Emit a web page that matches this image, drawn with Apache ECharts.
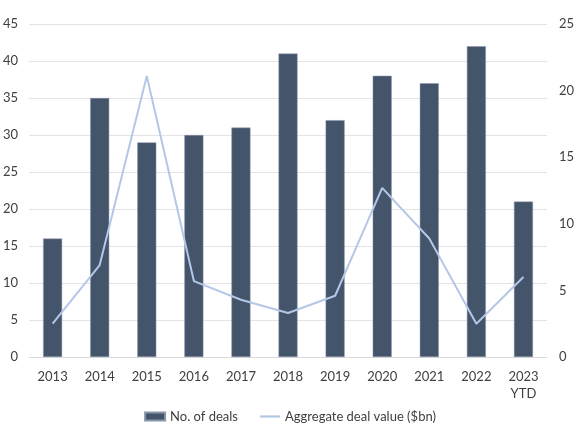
<!DOCTYPE html>
<html>
<head>
<meta charset="utf-8">
<script src="https://cdn.jsdelivr.net/npm/echarts@6/dist/echarts.min.js"></script>
<style>
html, body { margin: 0; padding: 0; background: #fff; }
#chart-panel { width: 580px; height: 435px; }
</style>
</head>
<body>
<div id="chart-panel"></div>
<script>
var years = ['2013', '2014', '2015', '2016', '2017', '2018', '2019', '2020', '2021', '2022', '2023\nYTD'];
var dealCount = [16, 35, 29, 30, 31, 41, 32, 38, 37, 42, 21];
var dealValue = [2.5, 6.9, 21.1, 5.7, 4.3, 3.3, 4.6, 12.7, 8.9, 2.5, 6.0];

var myChart = echarts.init(document.getElementById('chart-panel'));
var font = 'Lato';
option = {
    animation: false,
    textStyle: { fontFamily: font },
    grid: { left: 28, right: 33, top: 24, bottom: 78 },
    legend: {
        bottom: 7,
        left: 'center',
        itemGap: 22,
        itemWidth: 20,
        itemHeight: 8,
        textStyle: { color: '#404040', fontSize: 13, fontFamily: font },
        data: [
            { name: 'No. of deals', icon: 'rect' },
            { name: 'Aggregate deal value ($bn)', icon: 'path://M0,0 L20,0 L20,2.2 L0,2.2 Z', itemStyle: { color: '#B4C7E7' } }
        ]
    },
    xAxis: {
        type: 'category',
        data: years,
        axisLine: { lineStyle: { color: '#d9d9d9' } },
        axisTick: { show: false },
        axisLabel: { color: '#404040', fontSize: 13, margin: 11, lineHeight: 17 }
    },
    yAxis: [
        {
            type: 'value',
            min: 0,
            max: 45,
            interval: 5,
            axisLabel: { color: '#404040', fontSize: 13, margin: 11 },
            splitLine: { lineStyle: { color: '#e4e4e4' } }
        },
        {
            type: 'value',
            min: 0,
            max: 25,
            interval: 5,
            axisLabel: { color: '#404040', fontSize: 13, margin: 12 },
            splitLine: { show: false }
        }
    ],
    series: [
        {
            name: 'No. of deals',
            type: 'bar',
            yAxisIndex: 0,
            barWidth: 19,
            itemStyle: { color: '#44546A', borderColor: '#8a97ab', borderWidth: 0.5 },
            data: dealCount
        },
        {
            name: 'Aggregate deal value ($bn)',
            type: 'line',
            yAxisIndex: 1,
            symbol: 'none',
            lineStyle: { color: '#B4C7E7', width: 2 },
            itemStyle: { color: '#B4C7E7' },
            data: dealValue
        }
    ]
};
myChart.setOption(option);
</script>
</body>
</html>
